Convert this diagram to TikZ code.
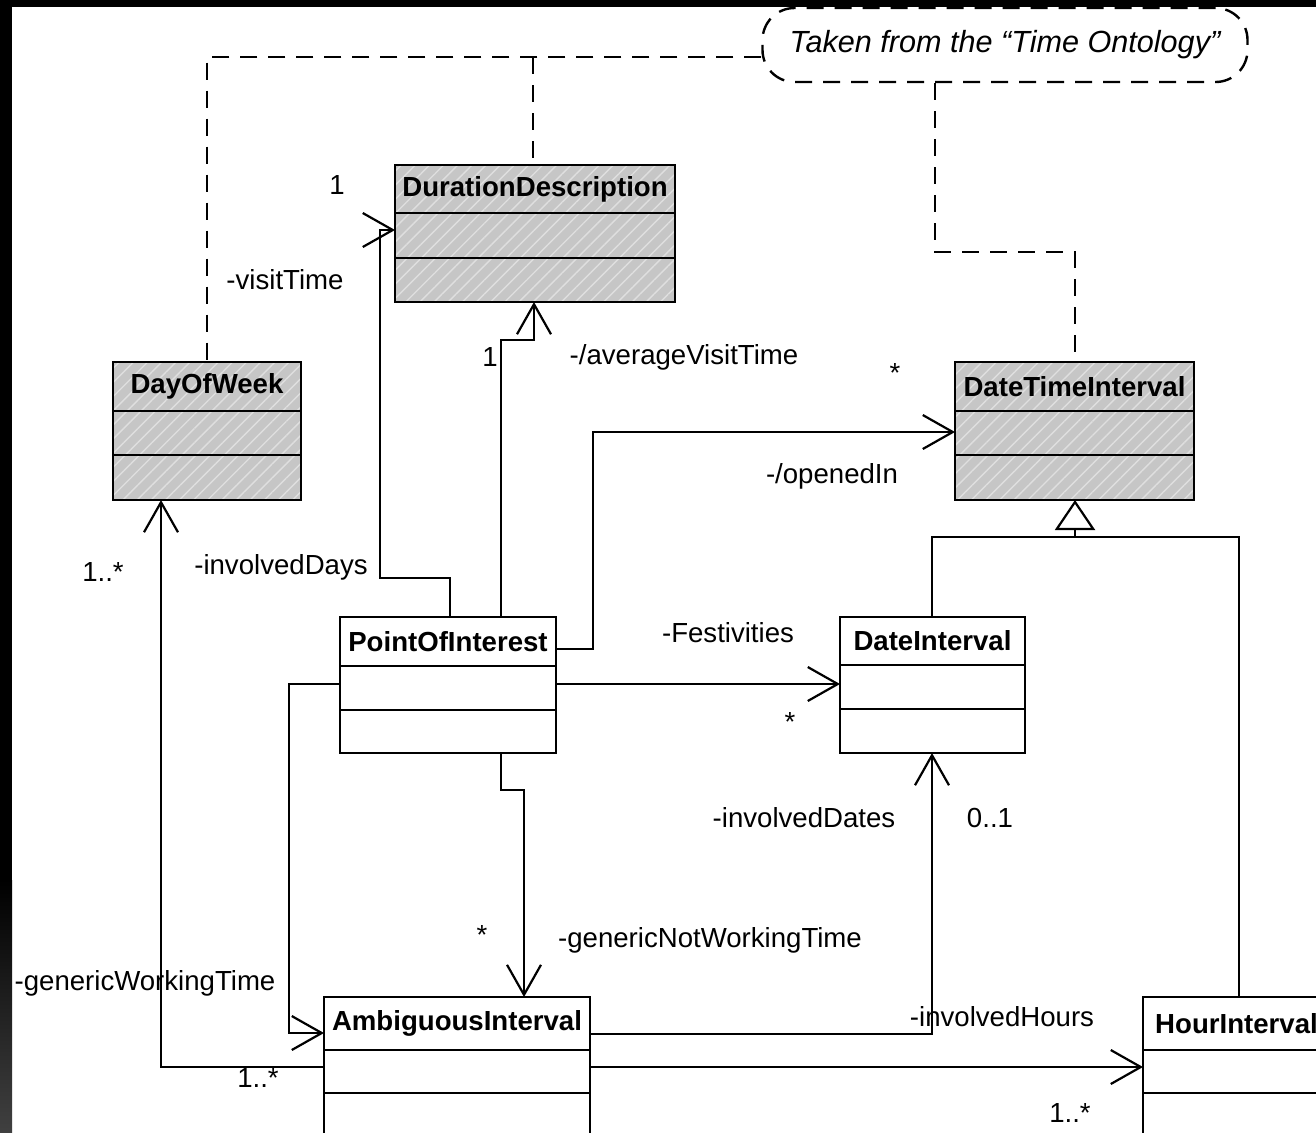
\documentclass[tikz,border=0pt]{standalone}
\usepackage{fontspec}
\setmainfont{Liberation Sans}
\usetikzlibrary{arrows.meta,patterns.meta,calc}

\tikzset{
  ln/.style={line width=1.2pt, line join=miter},
  assoc/.style={ln, -{Straight Barb[length=15pt,width=17pt,line width=1.1pt]}},
  genarrow/.style={ln, -{Triangle[open,length=15pt,width=20pt,line width=1.1pt]}},
  hatch/.style={preaction={fill=gray!45}, pattern={Lines[angle=45,distance=5pt,line width=0.7pt]}, pattern color=gray!25},
  plain/.style={fill=white},
  classbox/.style={draw, line width=1.2pt, inner sep=0pt, outer sep=0pt},
  classtitle/.style={font=\fontsize{13.8}{16}\selectfont\bfseries, inner sep=0pt},
  lbl/.style={font=\fontsize{13.8}{16}\selectfont, inner sep=0pt},
  dep/.style={line width=1.2pt, dash pattern=on 8.5pt off 5.5pt},
}

% #1 name, #2 x1, #3 y1, #4 x2, #5 y2, #6 divider1, #7 divider2, #8 title, #9 fill style
\newcommand{\umlclass}[9]{%
  \path[#9] (#2,#3) rectangle (#4,#5);
  \node[classbox, anchor=north west, minimum width={(#4-#2)*0.5pt}, minimum height={(#5-#3)*0.5pt}] (#1) at (#2,#3) {};
  \draw[line width=1.2pt] (#2,#6) -- (#4,#6) (#2,#7) -- (#4,#7);
  \node[classtitle] (#1-title) at ({(#2+#4)/2},{(#3+#6)/2}) {#8};
}

\begin{document}
\begin{tikzpicture}[x=0.5pt,y=-0.5pt]
\useasboundingbox (0,0) rectangle (1316,1132);
\clip (0,0) rectangle (1316,1132);
\fill[white] (0,0) rectangle (1316,1132);

% black frame remnants
\fill[black] (0,0) rectangle (1316,7);
\fill[black] (0,0) rectangle (12,880);
\shade[top color=black, bottom color=black!75] (0,880) rectangle (12,1132);

% classes
\umlclass{dd}{395}{165}{675}{302}{213}{258}{DurationDescription}{hatch}
\umlclass{dow}{113}{362}{301}{500}{411}{455}{DayOfWeek}{hatch}
\umlclass{dti}{955}{362}{1194}{500}{411}{455}{DateTimeInterval}{hatch}
\umlclass{poi}{340}{617}{556}{753}{666}{710}{PointOfInterest}{plain}
\umlclass{di}{840}{617}{1025}{753}{665}{709}{DateInterval}{plain}
\umlclass{ai}{324}{997}{590}{1145}{1050}{1093}{AmbiguousInterval}{plain}
\umlclass{hi}{1143}{997}{1330}{1145}{1050}{1093}{HourInterval}{plain}

% note
\node[draw, fill=white, dep, rounded corners=16pt, minimum width=242.5pt, minimum height=37pt,
      inner sep=0pt, font=\fontsize{15.3}{18}\selectfont\itshape] (note) at (1005,45)
      {Taken from the “Time Ontology”};

% dependencies to note
\draw[dep] (note.west |- 0,57) -| (207,0 |- dow.north);
\draw[dep] (533,57) -- (533,0 |- dd.north);
\draw[dep] (935,0 |- note.south) |- (1075,252) -- (1075,0 |- dti.north);

% associations
\draw[assoc] (450,0 |- poi.north) |- (380,578) |- (dd.west |- 0,230);
\draw[assoc] (501,0 |- poi.north) |- (534,340) -- (534,0 |- dd.south);
\draw[assoc] (poi.east |- 0,649) -| (593,432) -- (dti.west |- 0,432);
\draw[assoc] (poi.east |- 0,684) -- (di.west |- 0,684);
\draw[assoc] (501,0 |- poi.south) |- (524,790) -- (524,0 |- ai.north);
\draw[assoc] (poi.west |- 0,684) -| (289,1033) -- (ai.west |- 0,1033);
\draw[assoc] (ai.west |- 0,1067) -| (161,0 |- dow.south);
\draw[assoc] (ai.east |- 0,1034) -| (932,0 |- di.south);
\draw[assoc] (ai.east |- 0,1067) -- (hi.west |- 0,1067);

% generalization
\coordinate (gj) at (1075,537);
\draw[ln] (932,0 |- di.north) |- (gj);
\draw[ln] (1239,0 |- hi.north) |- (gj);
\draw[genarrow] (gj) -- (1075,0 |- dti.south);

% labels
\node[lbl] (l1) at (337,185) {1};
\node[lbl] (l2) at (285,280) {-visitTime};
\node[lbl] (l3) at (490,357) {1};
\node[lbl] (l4) at (684,357) {-/averageVisitTime};
\node[lbl] (l5) at (895,373) {*};
\node[lbl] (l6) at (832,476) {-/openedIn};
\node[lbl] (l7) at (103,572) {1..*};
\node[lbl] (l8) at (281,567) {-involvedDays};
\node[lbl] (l9) at (728,633) {-Festivities};
\node[lbl] (l10) at (790,722) {*};
\node[lbl] (l11) at (804,818) {-involvedDates};
\node[lbl] (l12) at (990,818) {0..1};
\node[lbl] (l13) at (482,935) {*};
\node[lbl] (l14) at (710,940) {-genericNotWorkingTime};
\node[lbl] (l15) at (145,983) {-genericWorkingTime};
\node[lbl] (l16) at (1002,1017) {-involvedHours};
\node[lbl] (l17) at (258,1078) {1..*};
\node[lbl] (l18) at (1070,1113) {1..*};
\end{tikzpicture}
\end{document}
